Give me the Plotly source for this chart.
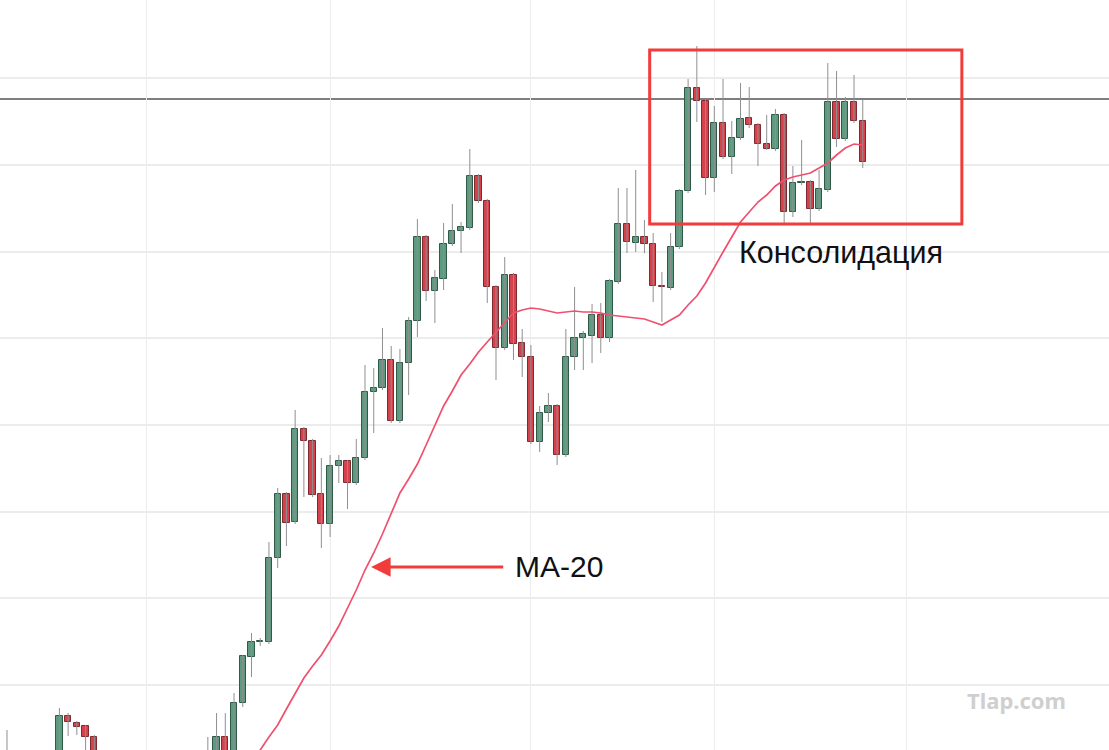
import plotly.graph_objects as go

# ---- candle data (bar index, open, high, low, close) ----
idx = [0, 6, 7, 8, 9, 10,
       23, 24, 25, 26, 27, 28, 29, 30, 31, 32, 33, 34, 35, 36, 37, 38, 39, 40,
       41, 42, 43, 44, 45, 46, 47, 48, 49, 50, 51, 52, 53, 54, 55, 56, 57, 58,
       59, 60, 61, 62, 63, 64, 65, 66, 67, 68, 69, 70, 71, 72, 73, 74, 75, 76,
       77, 78, 79, 80, 81, 82, 83, 84, 85, 86, 87, 88, 89, 90, 91, 92, 93, 94,
       95, 96, 97, 98]
opens = [220, 240, 284, 277, 274, 263,
         235, 247, 263, 248, 297, 343, 358, 358, 442, 506, 478, 571, 559, 506, 476, 534, 539, 517,
         542, 608, 612, 640, 579, 637, 679, 763, 709, 721, 756, 769, 772, 824, 799, 713, 652, 725,
         657, 643, 558, 587, 594, 545, 643, 662, 664, 685, 662, 718, 776, 757, 763, 756, 714, 712,
         753, 809, 912, 899, 822, 877, 843, 862, 882, 875, 856, 851, 885, 788, 817.5, 818, 791, 810,
         898, 861, 898, 879]
highs = [270, 292, 287, 279, 275, 265,
         263, 287, 287, 307, 345, 367, 362, 458, 512, 508, 590, 573, 561, 542, 545, 545, 540, 561,
         635, 632, 672, 654, 651, 683, 781, 765, 730, 777, 796, 778, 851, 826, 801, 715, 743, 727,
         671, 655, 594, 607, 596, 671, 713, 669, 696, 697, 721, 812, 812, 830, 780, 767, 728, 767,
         811, 921, 954, 901, 894, 921, 879, 917, 913, 877, 885, 891, 887, 834, 860, 820, 830, 937,
         929, 903, 925, 900]
lows = [210, 230, 264, 265, 248, 230,
        225, 240, 244, 243, 293, 323, 354, 356, 432, 454, 476, 503, 503, 452, 463, 517, 491, 515,
        540, 567, 610, 577, 577, 605, 663, 699, 677, 710, 754, 747, 770, 797, 697, 620, 650, 640,
        623, 556, 548, 578, 535, 543, 630, 630, 637, 647, 658, 716, 747, 748, 747, 698, 678, 710,
        751, 807, 878, 805, 808, 841, 826, 860, 872, 834, 850, 849, 777, 783, 815, 777, 789, 808,
        853, 859, 877, 832]
closes = [246, 284, 278, 273, 263, 240,
          248, 263, 248, 297, 344, 358, 358.5, 442, 506, 477, 571, 559, 505, 476, 534, 539, 517, 542,
          608, 612, 640, 579, 637, 679, 763, 709, 722, 756, 769, 773, 824, 799, 713, 652, 725, 656,
          643, 558, 587, 594, 545, 643, 662, 666, 685, 662, 719, 776, 758, 763, 756, 714, 713, 753,
          809, 912, 899, 822, 877, 843, 862, 881, 875, 856, 851, 885, 788, 817, 818, 791, 811, 898,
          861, 898, 879, 838]

# ---- MA-20 values ----
ma_idx = list(range(28, 99))
ma_vals = [239, 250, 263, 275, 291, 306, 322, 334, 345, 359, 374, 392, 410, 430, 447, 466,
           486, 507, 521, 536, 555, 575, 594, 609, 625, 636, 648, 658, 668, 677, 687, 690,
           692, 691, 689, 687, 688, 689, 688, 688, 687, 685, 684, 683, 682, 681, 678, 675,
           680, 685, 695, 704, 717, 733, 748, 763, 778, 788, 798, 805, 814, 820, 823, 825,
           827, 832, 837, 845, 852, 856, 855]

resistance_level = 901
grid_x = [16, 37, 60, 81, 103]
grid_y = [315, 402, 488, 575, 662, 748, 835, 922]

UP_FILL, UP_LINE = "#5e9a80", "#2f5a48"
DN_FILL, DN_LINE = "#d6424c", "#7e2a30"
WICK = "#8f8f8f"

fig = go.Figure()

# wicks
wx, wy = [], []
for k, h, l in zip(idx, highs, lows):
    wx += [k, k, None]
    wy += [l, h, None]
fig.add_trace(go.Scatter(x=wx, y=wy, mode="lines",
                         line=dict(color=WICK, width=1), hoverinfo="skip"))

# bodies
bases, heights, fills, outlines = [], [], [], []
for o, c in zip(opens, closes):
    bases.append(min(o, c))
    heights.append(max(abs(c - o), 0.6))
    up = c >= o
    fills.append(UP_FILL if up else DN_FILL)
    outlines.append(UP_LINE if up else DN_LINE)
fig.add_trace(go.Bar(x=idx, y=heights, base=bases, width=0.72,
                     marker=dict(color=fills, line=dict(color=outlines, width=1))))

# MA-20
fig.add_trace(go.Scatter(x=ma_idx, y=ma_vals, mode="lines",
                         line=dict(color="#f0506e", width=1.7), hoverinfo="skip"))

fig.add_shape(type="line", xref="paper", x0=0, x1=1, yref="y",
              y0=resistance_level, y1=resistance_level,
              line=dict(color="#555555", width=1.5), layer="below")

fig.add_shape(type="rect", xref="x", yref="y", x0=73.6, x1=109.35, y0=776, y1=950,
              line=dict(color="#f23b3b", width=3), layer="above")

fig.add_annotation(x=41.7, y=433, ax=57.0, ay=433, xref="x", yref="y",
                   axref="x", ayref="y", text="", showarrow=True,
                   arrowhead=2, arrowsize=1.3, arrowwidth=3, arrowcolor="#f23b3b",
                   standoff=0, startstandoff=0)
fig.add_annotation(x=57.95, y=434, xref="x", yref="y", text="MA-20", showarrow=False,
                   xanchor="left", yanchor="middle",
                   font=dict(family="Liberation Sans, Arial", size=30, color="#111111"))
fig.add_annotation(x=83.55, y=748, xref="x", yref="y", text="Консолидация", showarrow=False,
                   xanchor="left", yanchor="middle",
                   font=dict(family="Liberation Sans, Arial", size=30.5, color="#111111"))
fig.add_annotation(x=0.917, y=0.067, xref="paper", yref="paper", text="<b>Tlap.com</b>",
                   showarrow=False, xanchor="center", yanchor="middle",
                   font=dict(family="Noto Sans, Arial", size=22, color="#cfcfcf"))

fig.update_layout(
    width=1109, height=750, margin=dict(l=0, r=0, t=0, b=0),
    paper_bgcolor="white", plot_bgcolor="white", showlegend=False,
    bargap=0,
    xaxis=dict(range=[-0.8, 126.2], tickvals=grid_x, showticklabels=False,
               showgrid=True, gridcolor="#ececec", gridwidth=1, zeroline=False,
               showline=False, ticks=""),
    yaxis=dict(range=[250, 1000], tickvals=grid_y, showticklabels=False,
               showgrid=True, gridcolor="#ececec", gridwidth=1.5, zeroline=False,
               showline=False, ticks=""),
)

fig.write_html("out.html")
